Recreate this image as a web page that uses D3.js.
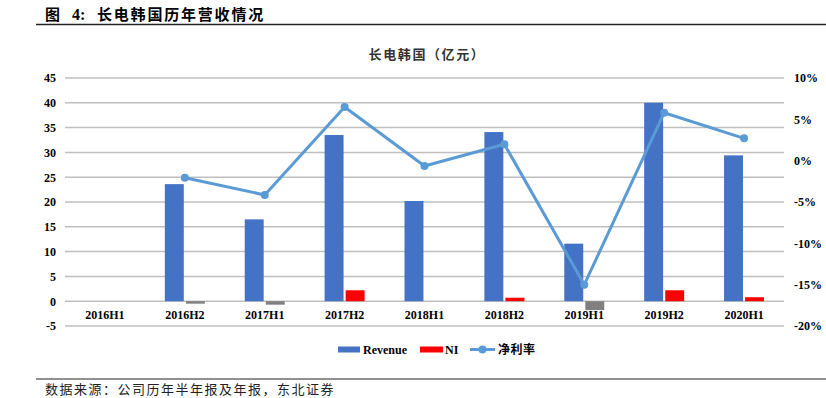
<!DOCTYPE html>
<html>
<head>
<meta charset="utf-8">
<script src="https://cdn.jsdelivr.net/npm/d3@7"></script>
<style>
  body { margin: 0; background: #fff; }
  svg { display: block; }
</style>
</head>
<body>
<div class="chart"></div>
<script>
// data
var periods = ["2016H1", "2016H2", "2017H1", "2017H2", "2018H1", "2018H2", "2019H1", "2019H2", "2020H1"];
var revenue = [0, 23.6, 16.5, 33.5, 20.2, 34.1, 11.6, 40.0, 29.4];
var ni = [0, -0.5, -0.7, 2.2, 0, 0.7, -1.8, 2.2, 0.8];
var margin = [null, -0.0206, -0.0415, 0.065, -0.0064, 0.0198, -0.150, 0.058, 0.027];
var leftTicks = [-5, 0, 5, 10, 15, 20, 25, 30, 35, 40, 45];
var rightTicks = [-0.20, -0.15, -0.10, -0.05, 0, 0.05, 0.10];

var svgWidth = 826;
var svgHeight = 398;

var svg = d3.select(".chart")
  .append("svg")
  .attr("width", svgWidth)
  .attr("height", svgHeight);

var cjk = "'Noto Sans CJK SC', sans-serif";
var serif = "'Liberation Serif', 'Times New Roman', serif";

// header
var head = svg.append("g")
  .attr("font-family", cjk)
  .attr("font-weight", "bold")
  .attr("font-size", 15);
head.append("text").attr("x", 45).attr("y", 20).text("图");
head.append("text").attr("x", 72).attr("y", 20).attr("font-family", serif).attr("font-size", 16).text("4:");
head.append("text").attr("x", 97).attr("y", 20).attr("letter-spacing", 1.8).text("长电韩国历年营收情况");

svg.append("line")
  .attr("x1", 36).attr("x2", 826)
  .attr("y1", 24.5).attr("y2", 24.5)
  .attr("stroke", "#222")
  .attr("stroke-width", 1.5);

svg.append("text")
  .attr("x", 427)
  .attr("y", 59)
  .attr("text-anchor", "middle")
  .attr("font-family", cjk)
  .attr("font-weight", "bold")
  .attr("font-size", 13)
  .attr("letter-spacing", 1.6)
  .attr("fill", "#333")
  .text("长电韩国（亿元）");

// scales
var x0 = d3.scaleBand()
  .domain(periods)
  .range([65, 784]);

var bw = x0.bandwidth();
var x1 = d3.scaleBand()
  .domain(["Revenue", "NI"])
  .range([bw / 2 - 20, bw / 2 + 20])
  .paddingInner(0.1);

var y = d3.scaleLinear()
  .domain([-5, 45])
  .range([326, 78]);

var y2 = d3.scaleLinear()
  .domain([-0.20, 0.10])
  .range([326, 78]);

// gridlines
svg.append("g")
  .selectAll("line")
  .data(leftTicks)
  .enter()
  .append("line")
  .attr("x1", 65)
  .attr("x2", 784)
  .attr("y1", d => y(d))
  .attr("y2", d => y(d))
  .attr("stroke", "#bfbfbf")
  .attr("stroke-width", 1.5);

// left axis (plain hyphen minus like the source)
var leftAxis = d3.axisLeft(y).tickValues(leftTicks).tickSize(0).tickPadding(0)
  .tickFormat(d => String(d));
var gl = svg.append("g")
  .attr("transform", "translate(56,0)")
  .call(leftAxis);
gl.select(".domain").remove();
gl.selectAll("text")
  .attr("font-family", serif)
  .attr("font-weight", "bold")
  .attr("font-size", 12)
  .attr("fill", "#000");

// right axis
var rightAxis = d3.axisRight(y2).tickValues(rightTicks).tickSize(0).tickPadding(0)
  .tickFormat(d => Math.round(d * 100) + "%");
var gr = svg.append("g")
  .attr("transform", "translate(794,0)")
  .call(rightAxis);
gr.select(".domain").remove();
gr.selectAll("text")
  .attr("font-family", serif)
  .attr("font-weight", "bold")
  .attr("font-size", 12)
  .attr("fill", "#000");

// bars
var groups = svg.append("g")
  .selectAll("g")
  .data(periods)
  .enter()
  .append("g")
  .attr("transform", d => `translate(${x0(d)},0)`);

groups.append("rect")
  .attr("x", x1("Revenue"))
  .attr("width", x1.bandwidth())
  .attr("y", (d, i) => y(Math.max(0, revenue[i])))
  .attr("height", (d, i) => Math.abs(y(revenue[i]) - y(0)))
  .attr("fill", "#4472c4");

groups.append("rect")
  .attr("x", x1("NI"))
  .attr("width", x1.bandwidth())
  .attr("y", (d, i) => y(Math.max(0, ni[i])))
  .attr("height", (d, i) => Math.abs(y(ni[i]) - y(0)))
  .attr("fill", (d, i) => ni[i] < 0 ? "#808080" : "#ff0000");

// category labels
var bottomAxis = d3.axisBottom(x0).tickSize(0).tickPadding(0);
var gb = svg.append("g")
  .attr("transform", "translate(0,310)")
  .call(bottomAxis);
gb.select(".domain").remove();
gb.selectAll("text")
  .attr("font-family", serif)
  .attr("font-weight", "bold")
  .attr("font-size", 12)
  .attr("fill", "#000");

// net margin line
var pts = periods.map((p, i) => ({ p: p, v: margin[i] })).filter(d => d.v !== null);
var line = d3.line()
  .x(d => x0(d.p) + bw / 2)
  .y(d => y2(d.v));

svg.append("path")
  .datum(pts)
  .attr("d", line)
  .attr("fill", "none")
  .attr("stroke", "#5b9bd5")
  .attr("stroke-width", 3)
  .attr("stroke-linejoin", "round");

svg.append("g")
  .selectAll("circle")
  .data(pts)
  .enter()
  .append("circle")
  .attr("cx", d => x0(d.p) + bw / 2)
  .attr("cy", d => y2(d.v))
  .attr("r", 4)
  .attr("fill", "#5b9bd5");

// legend
var lg = svg.append("g").attr("font-family", serif).attr("font-weight", "bold").attr("font-size", 12);
lg.append("rect").attr("x", 338).attr("y", 346.5).attr("width", 22).attr("height", 6).attr("fill", "#4472c4");
lg.append("text").attr("x", 363).attr("y", 353.5).text("Revenue");
lg.append("rect").attr("x", 420).attr("y", 346.5).attr("width", 23).attr("height", 6).attr("fill", "#ff0000");
lg.append("text").attr("x", 445).attr("y", 353.5).text("NI");
lg.append("line").attr("x1", 470).attr("x2", 495).attr("y1", 349.5).attr("y2", 349.5)
  .attr("stroke", "#5b9bd5").attr("stroke-width", 3);
lg.append("circle").attr("cx", 482.5).attr("cy", 349.5).attr("r", 4).attr("fill", "#5b9bd5");
lg.append("text").attr("x", 498).attr("y", 354).attr("font-family", cjk).attr("letter-spacing", 0.5).text("净利率");

// footer
svg.append("line")
  .attr("x1", 36).attr("x2", 826)
  .attr("y1", 379).attr("y2", 379)
  .attr("stroke", "#222")
  .attr("stroke-width", 1.2);

svg.append("text")
  .attr("x", 45)
  .attr("y", 394)
  .attr("font-family", cjk)
  .attr("font-size", 13)
  .attr("letter-spacing", 1.5)
  .attr("fill", "#222")
  .text("数据来源：公司历年半年报及年报，东北证券");
</script>
</body>
</html>
